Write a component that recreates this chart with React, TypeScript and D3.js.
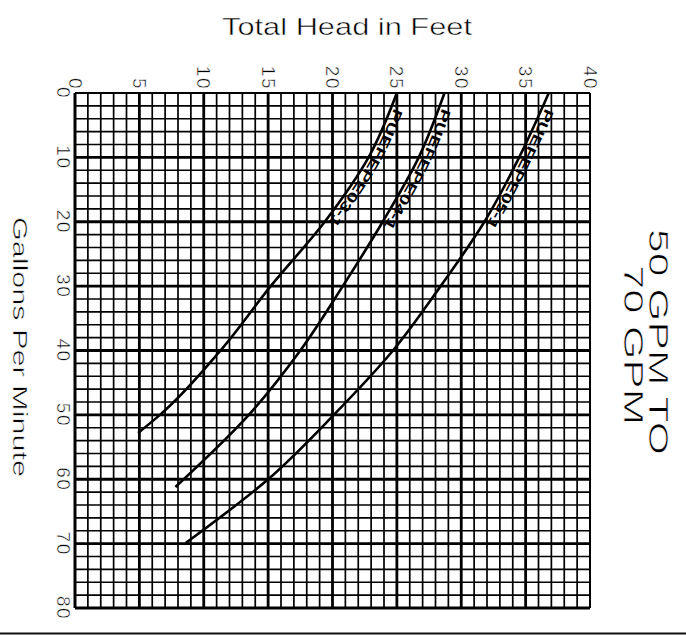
import React from "react";
import * as d3 from "d3";

// Head axis (feet) and flow axis (GPM)
const headTicks = [0, 5, 10, 15, 20, 25, 30, 35, 40];
const gpmTicks = [0, 10, 20, 30, 40, 50, 60, 70, 80];
const headMinor = d3.range(0, 41, 1);
const gpmMinor = d3.range(0, 81, 2);

// Pump curves: [gpm, head]
const curveA: [number, number][] = [
  [0, 25], [10, 22.8], [20, 19.4], [30, 15.2], [40, 11.3], [50, 6.6], [52.8, 4.9],
];
const curveB: [number, number][] = [
  [0, 28.7], [10, 26.7], [20, 23.9], [30, 20.8], [40, 17.5], [50, 13.5], [61.2, 7.8],
];
const curveC: [number, number][] = [
  [0, 36.8], [10, 34.5], [20, 31.8], [30, 28.4], [40, 24.7], [50, 20.1], [60, 15], [69.9, 8.6],
];
const curveLabels = ["PUEFEPE03-1", "PUEFEPE04-1", "PUEFEPE05-1"];

const W = 686;
const H = 635;
const FONT = "'Liberation Sans', Arial, sans-serif";
// thin, plotter-like strokes: a fine white outline painted over the glyph fill
const thin = { stroke: "#fff", strokeWidth: 0.5 } as const;

export default function App() {
  const x = d3.scaleLinear().domain([0, 40]).range([75, 590]);
  const y = d3.scaleLinear().domain([0, 80]).range([93, 608]);
  const line = d3
    .line<[number, number]>()
    .x((d) => x(d[1]))
    .y((d) => y(d[0]))
    .curve(d3.curveMonotoneY);
  const curves = [curveA, curveB, curveC];

  return (
    <svg
      width={W}
      height={H}
      style={{ position: "absolute", left: 0, top: 0, background: "#fff" }}
    >
      <rect x={0} y={0} width={W} height={H} fill="#fff" />
      {/* minor grid */}
      {headMinor
        .filter((h) => h % 5 !== 0)
        .map((h) => (
          <line key={"vx" + h} x1={x(h)} x2={x(h)} y1={y(0)} y2={y(80)} stroke="#000" strokeWidth={1.7} />
        ))}
      {gpmMinor
        .filter((g) => g % 10 !== 0)
        .map((g) => (
          <line key={"hy" + g} x1={x(0)} x2={x(40)} y1={y(g)} y2={y(g)} stroke="#000" strokeWidth={1.7} />
        ))}
      {/* major grid */}
      {headTicks.map((h) => (
        <line key={"VX" + h} x1={x(h)} x2={x(h)} y1={y(0)} y2={y(80)} stroke="#000" strokeWidth={h === 0 ? 3 : h === 40 ? 2 : 2.8} />
      ))}
      {gpmTicks.map((g) => (
        <line key={"HY" + g} x1={x(0)} x2={x(40)} y1={y(g)} y2={y(g)} stroke="#000" strokeWidth={g === 0 ? 2 : 2.8} />
      ))}

      {/* curves */}
      {curves.map((c, i) => (
        <path key={"c" + i} id={"pc" + i} d={line(c) || ""} fill="none" stroke="#000" strokeWidth={2.6} />
      ))}
      {curves.map((c, i) => (
        <text key={"t" + i} fontFamily={FONT} fontWeight="bold" fontSize={13.5} fill="#000" dy={-3}>
          <textPath href={"#pc" + i} startOffset={15} textLength={132} lengthAdjust="spacingAndGlyphs">
            {curveLabels[i]}
          </textPath>
        </text>
      ))}

      {/* head tick labels (top) */}
      {headTicks.map((h) => (
        <text
          key={"lh" + h}
          transform={`translate(${x(h)},90) rotate(90)`}
          textAnchor="end"
          dominantBaseline="central"
          fontFamily={FONT}
          fontSize={19}
          letterSpacing={1.5}
          fill="#000"
          {...thin}
        >
          {h}
        </text>
      ))}
      {/* gpm tick labels (left) */}
      {gpmTicks.map((g) => (
        <text
          key={"lg" + g}
          transform={`translate(63,${y(g)}) rotate(90)`}
          textAnchor="middle"
          dominantBaseline="central"
          fontFamily={FONT}
          fontSize={19}
          letterSpacing={1.5}
          fill="#000"
          {...thin}
        >
          {g}
        </text>
      ))}

      {/* axis titles */}
      <text x={347} y={35} textAnchor="middle" fontFamily={FONT} fontSize={24} textLength={250} lengthAdjust="spacingAndGlyphs" fill="#000" {...thin}>
        Total Head in Feet
      </text>
      <text
        transform={`translate(20,347) rotate(90)`}
        textAnchor="middle"
        dominantBaseline="central"
        fontFamily={FONT}
        fontSize={21}
        textLength={260}
        lengthAdjust="spacingAndGlyphs"
        fill="#000"
        {...thin}
      >
        Gallons Per Minute
      </text>
      <text
        transform={`translate(658,342) rotate(90)`}
        textAnchor="middle"
        dominantBaseline="central"
        fontFamily={FONT}
        fontSize={28}
        textLength={226}
        lengthAdjust="spacingAndGlyphs"
        fill="#000"
        {...thin}
        strokeWidth={0.7}
      >
        50 GPM TO
      </text>
      <text
        transform={`translate(633,345) rotate(90)`}
        textAnchor="middle"
        dominantBaseline="central"
        fontFamily={FONT}
        fontSize={28}
        textLength={160}
        lengthAdjust="spacingAndGlyphs"
        fill="#000"
        {...thin}
        strokeWidth={0.7}
      >
        70 GPM
      </text>

      <line x1={0} x2={W} y1={633.5} y2={633.5} stroke="#111" strokeWidth={2} />
    </svg>
  );
}
